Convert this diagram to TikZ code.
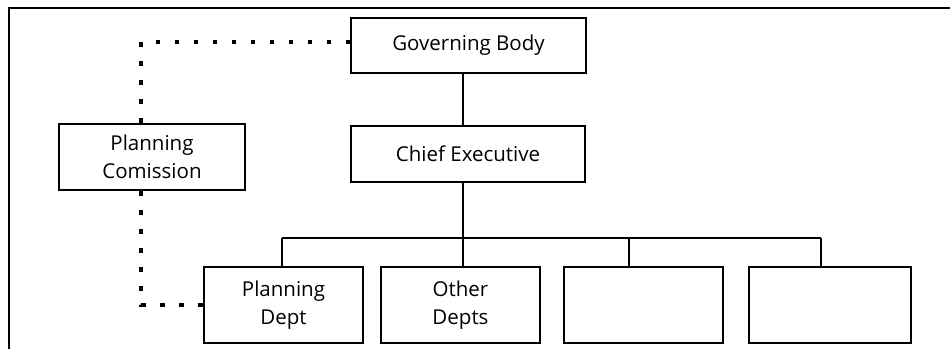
\documentclass[tikz,border=0pt]{standalone}
\usepackage{fontspec}
\setmainfont{Open Sans}
\begin{document}
\begin{tikzpicture}[x=1pt,y=-1pt,
  box/.style={draw,line width=2pt,inner sep=0pt,align=center,font=\fontsize{20.5}{27.5}\selectfont},
  link/.style={line width=1.8pt},
  dots/.style={line width=3.3pt,dash pattern=on 4.5pt off 14.5pt}]
\useasboundingbox (0,0) rectangle (950,349);
% page frame (top and left edges)
\draw[line width=1.6pt] (950,8) -- (9,8) -- (9,349);
% boxes
\node[box,minimum width=235pt,minimum height=55pt] (GB) at (468.5,45.5) {Governing Body};
\node[box,minimum width=234pt,minimum height=56pt] (CE) at (468,154) {Chief Executive};
\node[box,minimum width=186pt,minimum height=66pt] (PC) at (152,157) {Planning\\Comission};
\node[box,minimum width=159pt,minimum height=76pt] (PD) at (283.5,305) {Planning\\Dept};
\node[box,minimum width=159pt,minimum height=76pt] (OD) at (460.5,305) {Other\\Depts};
\node[box,minimum width=159pt,minimum height=76pt] (B3) at (643.5,305) {};
\node[box,minimum width=162pt,minimum height=76pt] (B4) at (830,305) {};
% reporting lines
\coordinate (trunk) at (463,238);
\coordinate (d1) at (282,238);
\coordinate (d3) at (629,238);
\coordinate (d4) at (821,238);
\draw[link] (trunk |- GB.south) -- (trunk |- CE.north);
\draw[link] (trunk |- CE.south) -- (trunk);
\draw[link] (d1) -- (d4);
\draw[link] (d1) -- (d1 |- PD.north);
\draw[link] (trunk) -- (trunk |- OD.north);
\draw[link] (d3) -- (d3 |- B3.north);
\draw[link] (d4) -- (d4 |- B4.north);
% advisory links of the planning commission
\coordinate (corner) at (141,42);
\draw[dots] (GB.west |- corner) -- (corner) -- (corner |- PC.north);
\draw[dots] (corner |- PC.south) -- (corner |- PD.west) -- (PD.west);
\end{tikzpicture}
\end{document}
